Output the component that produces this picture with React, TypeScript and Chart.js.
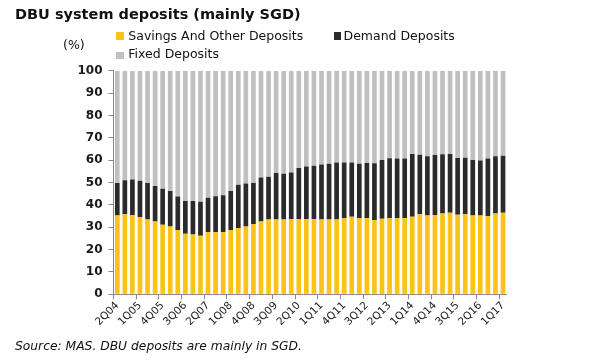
import React, { useEffect, useRef } from "react";
import { Chart, registerables } from "chart.js";

Chart.register(...registerables);

const quarters: string[] = [];
{
  let y = 2004, q = 2;
  for (let i = 0; i < 52; i++) {
    quarters.push(`${q}Q${String(y % 100).padStart(2, "0")}`);
    q++;
    if (q > 4) { q = 1; y++; }
  }
}

// cumulative tops
const savingsTop = [
  35.2, 35.8, 35.5, 34.6, 33.4, 32.6, 31.1, 30.3, 28.8, 27.1, 26.7, 26.2, 27.9,
  27.7, 27.9, 28.8, 29.7, 30.3, 31.4, 32.6, 33.4, 33.4, 33.4, 33.7, 33.7, 33.7,
  33.7, 33.4, 33.4, 33.4, 34.1, 34.7, 34.0, 34.1, 33.2, 33.8, 34.0, 34.0, 34.1,
  34.7, 35.8, 35.2, 35.5, 36.1, 36.5, 35.6, 35.8, 35.2, 35.2, 35.0, 36.1, 36.5,
];
const demandTop = [
  49.8, 51.0, 51.3, 50.8, 49.8, 48.4, 47.2, 46.2, 43.7, 41.7, 41.7, 41.4, 43.2,
  43.8, 44.3, 46.2, 49.0, 49.5, 49.8, 52.2, 52.6, 54.2, 53.9, 54.5, 56.5, 57.1,
  57.5, 58.0, 58.4, 58.9, 58.9, 58.9, 58.4, 58.7, 58.6, 60.1, 60.8, 60.7, 60.7,
  62.7, 62.4, 61.7, 62.3, 62.6, 62.7, 61.0, 61.1, 60.1, 59.8, 60.7, 61.7, 62.0,
];
const savings = savingsTop;
const demand = demandTop.map((t, i) => +(t - savingsTop[i]).toFixed(1));
const fixed = demandTop.map((t) => +(100 - t).toFixed(1));

const yTicks = [0, 10, 20, 30, 40, 50, 60, 70, 80, 90, 100];

const FONT = "'DejaVu Sans', Verdana, sans-serif";

export default function App() {
  const ref = useRef<HTMLCanvasElement>(null);
  useEffect(() => {
    document.body.style.margin = "0";
    const chart = new Chart(ref.current!, {
      type: "bar",
      data: {
        labels: quarters,
        datasets: [
          { label: "Savings And Other Deposits", data: savings, backgroundColor: "#FBC318" },
          { label: "Demand Deposits", data: demand, backgroundColor: "#2b2b2b" },
          { label: "Fixed Deposits", data: fixed, backgroundColor: "#c0c0c0" },
        ],
      },
      options: {
        animation: false,
        responsive: false,
        layout: { padding: { top: 70.7, right: 93.2, left: 0, bottom: 0 } },
        datasets: { bar: { categoryPercentage: 1, barPercentage: 0.62 } },
        plugins: { legend: { display: false }, tooltip: { enabled: false } },
        scales: {
          x: {
            stacked: true,
            afterFit: (s: any) => { s.height = 360 - 294.3; },
            border: { display: true, color: "#8a8a8a", width: 1 },
            grid: {
              drawOnChartArea: false,
              drawTicks: true,
              tickLength: 5,
              color: (ctx: any) => (ctx.index % 3 === 0 ? "#8a8a8a" : "rgba(0,0,0,0)"),
            },
            ticks: {
              autoSkip: false,
              maxRotation: 45,
              minRotation: 45,
              padding: 0,
              color: "#222",
              font: { family: FONT, size: 10.5 },
              callback: (_v: any, i: number) => (i % 3 === 0 ? quarters[i] : ""),
            },
          },
          y: {
            stacked: true,
            min: 0,
            max: 100,
            afterFit: (s: any) => { s.width = 113.5; },
            afterBuildTicks: (s: any) => { s.ticks = yTicks.map((v) => ({ value: v })); },
            border: { display: true, color: "#8a8a8a", width: 1 },
            grid: { drawOnChartArea: false, drawTicks: true, tickLength: 5, color: "#8a8a8a" },
            ticks: {
              padding: 6,
              color: "#1a1a1a",
              font: { family: FONT, size: 12, weight: "bold" },
            },
          },
        },
      },
    });
    return () => chart.destroy();
  }, []);

  const text: React.CSSProperties = { position: "absolute", fontFamily: FONT, lineHeight: 1, whiteSpace: "nowrap", color: "#111" };
  const sq = (c: string, x: number, y: number): React.CSSProperties => ({ position: "absolute", left: x, top: y, width: 7.5, height: 7.5, background: c });

  return (
    <div style={{ position: "fixed", left: 0, top: 0, width: 600, height: 360, background: "#fff" }}>
      <canvas ref={ref} width={600} height={360} style={{ position: "absolute", left: 0, top: 0, width: 600, height: 360 }} />
      <div style={{ ...text, left: 15, top: 6.6, fontSize: 14.5, fontWeight: "bold" }}>DBU system deposits (mainly SGD)</div>
      <div style={{ ...text, left: 63, top: 39, fontSize: 12.5 }}>(%)</div>
      <div style={sq("#FBC318", 116, 32.3)} />
      <div style={{ ...text, left: 128.3, top: 30.2, fontSize: 12.5 }}>Savings And Other Deposits</div>
      <div style={sq("#2b2b2b", 333.5, 32.3)} />
      <div style={{ ...text, left: 343.5, top: 30.2, fontSize: 12.5 }}>Demand Deposits</div>
      <div style={sq("#c0c0c0", 116, 51.5)} />
      <div style={{ ...text, left: 128.3, top: 48, fontSize: 12.5 }}>Fixed Deposits</div>
      <div style={{ ...text, left: 15, top: 340.3, fontSize: 12.3, fontStyle: "italic" }}>Source: MAS. DBU deposits are mainly in SGD.</div>
    </div>
  );
}
